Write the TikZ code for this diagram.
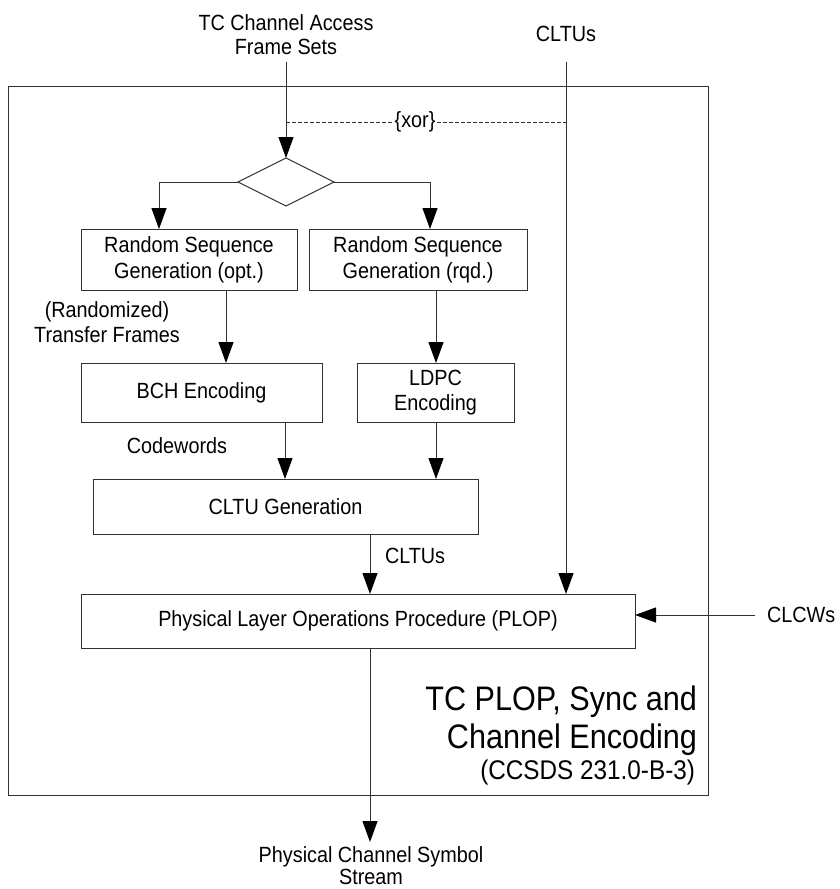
\documentclass[tikz,border=0pt]{standalone}
\usepackage{fontspec}
\setmainfont[FakeStretch=0.9]{Liberation Sans}
\usetikzlibrary{arrows.meta,shapes.geometric}
\definecolor{linec}{RGB}{50,50,50}
\begin{document}
\begin{tikzpicture}[x=1pt,y=-1pt,
  every node/.style={inner sep=0pt, outer sep=0pt},
  lbl/.style={align=center, font=\fontsize{22}{25}\selectfont},
  box/.style={draw=linec, line width=1pt, align=center, font=\fontsize{22}{26}\selectfont},
  conn/.style={draw=linec, line width=1pt, -{Triangle[length=21pt,width=15pt,color=black]}},
  plain/.style={draw=linec, line width=1pt},
]
\useasboundingbox (0,0) rectangle (840,889);

% outer frame
\node[draw=linec, line width=1pt, minimum width=700pt, minimum height=709pt] (frame) at (358,440.5) {};

% top labels
\node[lbl, font=\fontsize{22}{24}\selectfont] (tcin) at (286,35) {TC Channel Access\\Frame Sets};
\node[lbl] (cltuin) at (566,34) {CLTUs};
\coordinate (tcstart) at (286,62);
\coordinate (cltustart) at (566,62);

% diamond
\node[draw=linec, line width=1pt, diamond, minimum width=96pt, minimum height=48pt] (dia) at (286,182) {};

% boxes
\node[box, minimum width=216pt, minimum height=61pt] (rso) at (189,259.5) {Random Sequence\\Generation (opt.)};
\node[box, minimum width=218pt, minimum height=61pt] (rsr) at (418,259.5) {Random Sequence\\Generation (rqd.)};
\node[box, minimum width=241pt, minimum height=59pt] (bch) at (201.5,392.5) {BCH Encoding};
\node[box, minimum width=157pt, minimum height=59pt, font=\fontsize{22}{25}\selectfont] (ldpc) at (435.5,392.5) {LDPC\\Encoding};
\node[box, minimum width=385pt, minimum height=55pt] (cltu) at (285.5,506.5) {CLTU Generation};
\node[box, minimum width=554pt, minimum height=54pt, font=\fontsize{22}{25}\selectfont] (plop) at (358,621) {Physical Layer Operations Procedure (PLOP)};

% xor dashed line
\node[lbl, fill=white, inner xsep=1.5pt] (xor) at (415,122) {\{xor\}};
\coordinate (xl) at (286,122);
\coordinate (xr) at (566,122);
\draw[plain, dashed, dash pattern=on 4pt off 2pt] (xl) -- (xor.west);
\draw[plain, dashed, dash pattern=on 4pt off 2pt] (xor.east) -- (xr);

% connectors
\draw[conn] (tcstart) -- (dia.north);
\draw[conn] (dia.west) -| (159,0 |- rso.north);
\draw[conn] (dia.east) -| (430,0 |- rsr.north);
\draw[conn] (226,0 |- rso.south) -- (226,0 |- bch.north);
\draw[conn] (436,0 |- rsr.south) -- (436,0 |- ldpc.north);
\draw[conn] (285,0 |- bch.south) -- (285,0 |- cltu.north);
\draw[conn] (436,0 |- ldpc.south) -- (436,0 |- cltu.north);
\draw[conn] (370,0 |- cltu.south) -- (370,0 |- plop.north);
\draw[conn] (cltustart) -- (566,0 |- plop.north);
\coordinate (clcwstart) at (755,615);
\draw[conn] (clcwstart) -- (plop.east |- clcwstart);
\coordinate (outend) at (370,842);
\draw[conn] (370,0 |- plop.south) -- (outend);

% labels
\node[lbl] (randlbl) at (107,322) {(Randomized)\\Transfer Frames};
\node[lbl] (cwlbl) at (177,446) {Codewords};
\node[lbl, anchor=west] (cltumid) at (385,556) {CLTUs};
\node[lbl, anchor=west] (clcwlbl) at (767,615) {CLCWs};
\node[lbl, font=\fontsize{22}{22}\selectfont] (outlbl) at (371,866) {Physical Channel Symbol\\Stream};

% big title
\node[anchor=east, font=\fontsize{34}{36}\selectfont] (big1) at (697,702) {TC PLOP, Sync and};
\node[anchor=east, font=\fontsize{34}{36}\selectfont] (big2) at (697,740) {Channel Encoding};
\node[anchor=east, font=\fontsize{27}{29}\selectfont] (big3) at (695,773) {(CCSDS 231.0-B-3)};
\end{tikzpicture}
\end{document}
